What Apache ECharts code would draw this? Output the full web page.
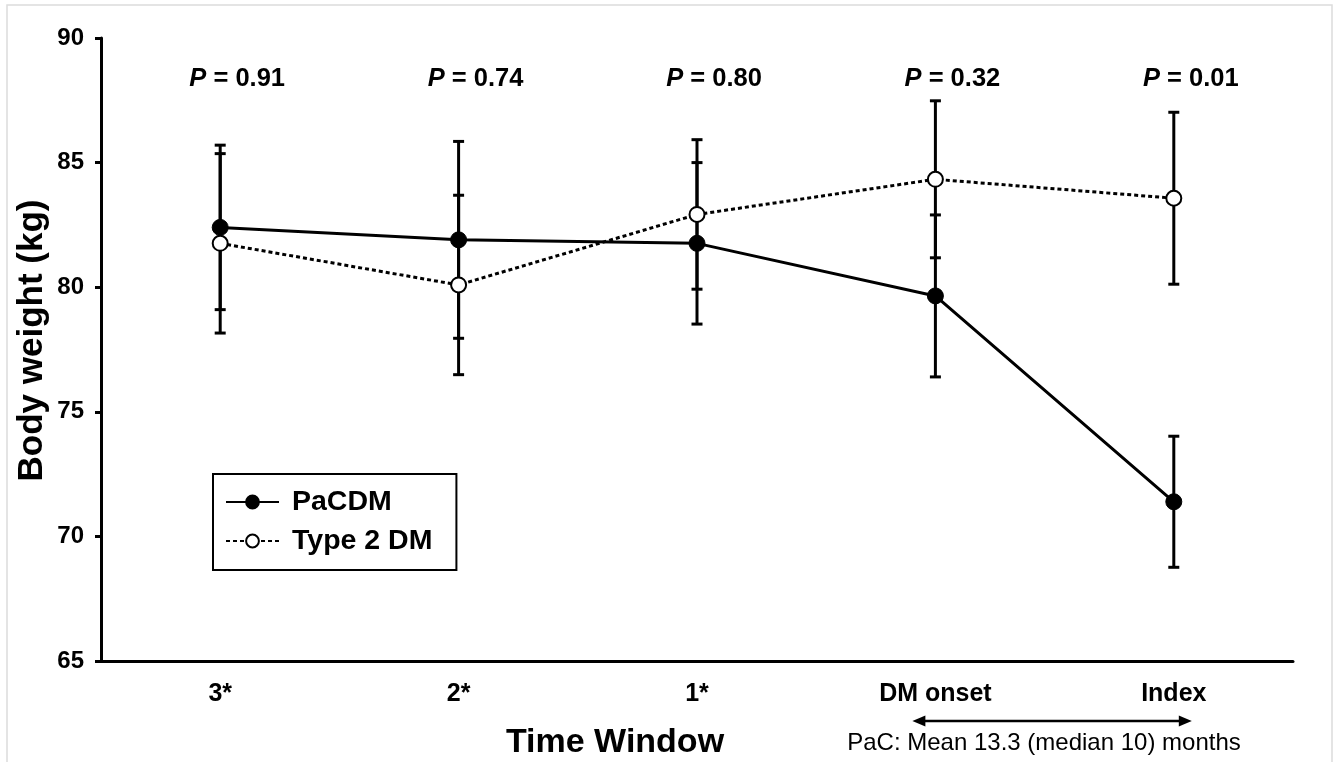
<!DOCTYPE html>
<html>
<head>
<meta charset="utf-8">
<script src="https://cdn.jsdelivr.net/npm/echarts@6/dist/echarts.min.js"></script>
<style>
  html, body { margin: 0; padding: 0; background: #fff; }
  #chart { width: 1337px; height: 762px; }
</style>
</head>
<body>
<div id="chart"></div>
<script>
// Time windows and measured body weight (mean with error bar half-length)
const categories = ["3*", "2*", "1*", "DM onset", "Index"];
const pacdmMean = [82.4, 81.9, 81.76, 79.65, 71.39];
const pacdmErr = [3.3, 3.95, 3.24, 3.25, 2.63];
const t2dmMean = [81.76, 80.09, 82.92, 84.33, 83.57];
const t2dmErr = [3.6, 3.6, 3.0, 3.15, 3.45];
const pValues = ["0.91", "0.74", "0.80", "0.32", "0.01"];
const yTicks = { min: 65, max: 90, interval: 5 };

const FONT = "Liberation Sans";

const chartDom = document.getElementById("chart");
const myChart = echarts.init(chartDom);

// Build error bar rows: [categoryIndex, low, high]
function errorRows(mean, err) {
  return mean.map((m, i) => [i, m - err[i], m + err[i]]);
}

function renderErrorBar(params, api) {
  const x = api.value(0);
  const low = api.coord([x, api.value(1)]);
  const high = api.coord([x, api.value(2)]);
  const half = 5.5;
  const style = { stroke: "#000", lineWidth: 3 };
  return {
    type: "group",
    children: [
      { type: "line", shape: { x1: high[0], y1: high[1], x2: low[0], y2: low[1] }, style },
      { type: "line", shape: { x1: high[0] - half, y1: high[1], x2: high[0] + half, y2: high[1] }, style },
      { type: "line", shape: { x1: low[0] - half, y1: low[1], x2: low[0] + half, y2: low[1] }, style },
    ],
  };
}

const option = {
  animation: false,
  backgroundColor: "#fff",
  textStyle: { fontFamily: FONT, color: "#000" },
  grid: { left: 101, right: 44, top: 38, bottom: 101, containLabel: false, outerBoundsMode: "none" },
  legend: {
    orient: "vertical",
    left: 213,
    top: 474,
    padding: [13, 24, 14, 12],
    itemGap: 9,
    itemWidth: 53,
    itemHeight: 16,
    borderColor: "#000",
    borderWidth: 2,
    borderRadius: 0,
    data: ["PaCDM", "Type 2 DM"],
    textStyle: {
      fontFamily: FONT,
      fontSize: 28.5,
      fontWeight: "bold",
      color: "#000",
      lineHeight: 30,
      padding: [0, 0, 0, 8],
    },
  },
  xAxis: [
    {
      type: "category",
      data: categories,
      boundaryGap: true,
      axisLine: { lineStyle: { color: "#000", width: 3 } },
      axisTick: { show: false },
      axisLabel: {
        color: "#000",
        fontFamily: FONT,
        fontSize: 25,
        fontWeight: "bold",
        margin: 21,
      },
      splitLine: { show: false },
    },
    {
      // P-value row across the top, one per time window
      type: "category",
      position: "top",
      data: pValues,
      boundaryGap: true,
      axisLine: { show: false },
      axisTick: { show: false },
      splitLine: { show: false },
      axisLabel: {
        inside: true,
        margin: 28,
        padding: [0, 0, 0, 34],
        color: "#000",
        fontFamily: FONT,
        fontSize: 25.5,
        fontWeight: "bold",
        formatter: (v) => "{p|P} = " + v,
        rich: {
          p: { fontStyle: "italic", fontWeight: "bold", fontSize: 25.5, fontFamily: FONT, color: "#000" },
        },
      },
    },
  ],
  yAxis: {
    type: "value",
    min: yTicks.min,
    max: yTicks.max,
    interval: yTicks.interval,
    name: "Body weight (kg)",
    nameLocation: "middle",
    nameGap: 51,
    nameMoveOverlap: false,
    nameTextStyle: {
      fontFamily: FONT,
      fontSize: 35,
      fontWeight: "bold",
      color: "#000",
      padding: [0, 0, 0, 18],
    },
    axisLine: { show: true, lineStyle: { color: "#000", width: 3 } },
    axisTick: { show: true, length: 6, lineStyle: { color: "#000", width: 3 } },
    axisLabel: { color: "#000", fontFamily: FONT, fontSize: 24, fontWeight: "bold", margin: 17 },
    splitLine: { show: false },
  },
  series: [
    {
      type: "custom",
      name: "PaCDM err",
      renderItem: renderErrorBar,
      data: errorRows(pacdmMean, pacdmErr),
      z: 1,
      silent: true,
    },
    {
      type: "custom",
      name: "Type 2 DM err",
      renderItem: renderErrorBar,
      data: errorRows(t2dmMean, t2dmErr),
      z: 1,
      silent: true,
    },
    {
      type: "line",
      name: "PaCDM",
      data: pacdmMean,
      symbol: "circle",
      symbolSize: 16,
      lineStyle: { color: "#000", width: 3 },
      itemStyle: { color: "#000", borderColor: "#000", borderWidth: 1 },
      z: 3,
    },
    {
      type: "line",
      name: "Type 2 DM",
      data: t2dmMean,
      symbol: "circle",
      symbolSize: 15,
      lineStyle: { color: "#000", width: 3, type: [4, 3] },
      itemStyle: { color: "#fff", borderColor: "#000", borderWidth: 2 },
      z: 4,
    },
  ],
};

myChart.setOption(option);

// Annotations below the axis, placed from the category positions
const xOnset = myChart.convertToPixel({ xAxisIndex: 0 }, "DM onset");
const xIndex = myChart.convertToPixel({ xAxisIndex: 0 }, "Index");
const yAxisBase = myChart.convertToPixel({ yAxisIndex: 0 }, yTicks.min);
const arrowY = yAxisBase + 60;
const a1 = xOnset - 23;
const a2 = xIndex + 18;

myChart.setOption({
  graphic: [
    {
      type: "rect",
      shape: { x: 7, y: 5, width: 1325, height: 800 },
      style: { fill: "none", stroke: "#dcdcdc", lineWidth: 1.5 },
      silent: true,
      z: -10,
    },
    {
      type: "text",
      x: 615,
      y: yAxisBase + 82,
      style: {
        text: "Time Window",
        fontFamily: FONT,
        fontSize: 34,
        fontWeight: "bold",
        fill: "#000",
        align: "center",
        verticalAlign: "middle",
      },
    },
    {
      type: "line",
      shape: { x1: a1 + 10, y1: arrowY, x2: a2 - 10, y2: arrowY },
      style: { stroke: "#000", lineWidth: 2.5 },
    },
    {
      type: "polygon",
      shape: { points: [[a1, arrowY], [a1 + 13, arrowY - 5.5], [a1 + 13, arrowY + 5.5]] },
      style: { fill: "#000" },
    },
    {
      type: "polygon",
      shape: { points: [[a2, arrowY], [a2 - 13, arrowY - 5.5], [a2 - 13, arrowY + 5.5]] },
      style: { fill: "#000" },
    },
    {
      type: "text",
      x: 1044,
      y: yAxisBase + 82,
      style: {
        text: "PaC: Mean 13.3 (median 10) months",
        fontFamily: FONT,
        fontSize: 24,
        fill: "#000",
        align: "center",
        verticalAlign: "middle",
      },
    },
  ],
});

window.addEventListener("resize", () => myChart.resize());
</script>
</body>
</html>
